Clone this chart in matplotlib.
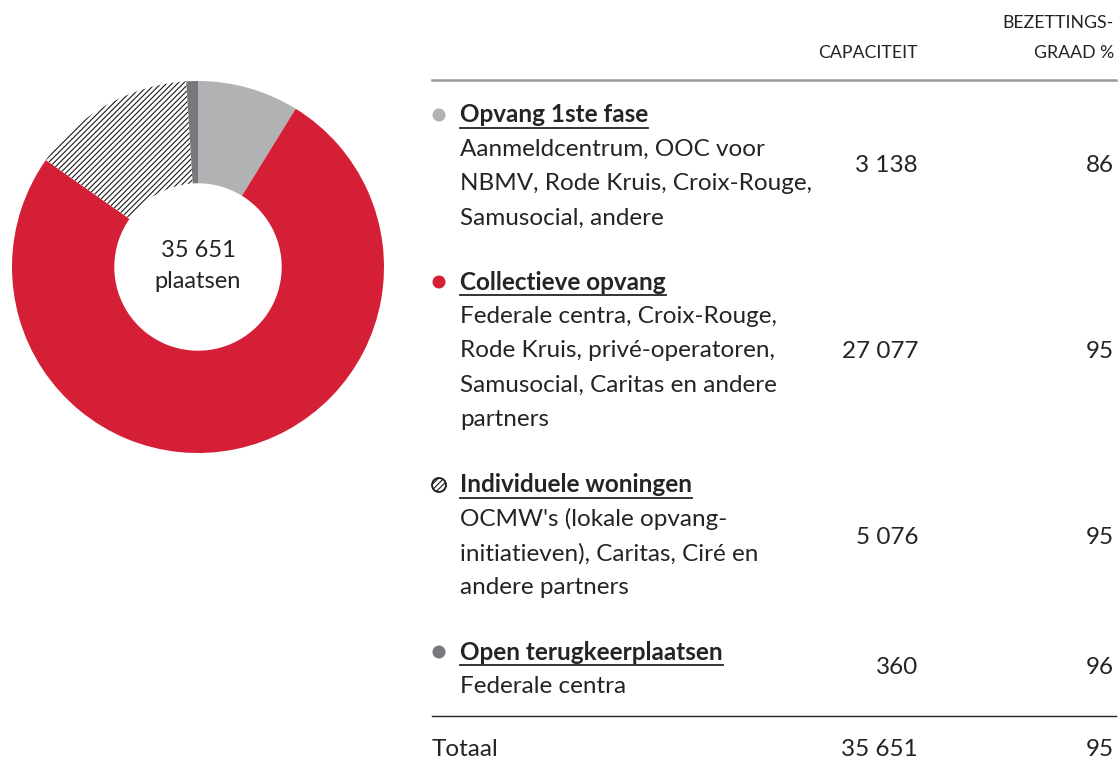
import matplotlib
matplotlib.use("Agg")
import matplotlib.pyplot as plt
from matplotlib.patches import Circle

# data
categorieen = ["Opvang 1ste fase", "Collectieve opvang",
               "Individuele woningen", "Open terugkeerplaatsen"]
omschrijving = [
    ["Aanmeldcentrum, OOC voor", "NBMV, Rode Kruis, Croix-Rouge,", "Samusocial, andere"],
    ["Federale centra, Croix-Rouge,", "Rode Kruis, privé-operatoren,",
     "Samusocial, Caritas en andere", "partners"],
    ["OCMW's (lokale opvang-", "initiatieven), Caritas, Ciré en", "andere partners"],
    ["Federale centra"],
]
capaciteit = [3138, 27077, 5076, 360]
bezetting = [86, 95, 95, 96]
totaal_capaciteit = 35651
totaal_bezetting = 95

kleuren = ["#B1B2B4", "#D51F36", "white", "#77787B"]
arcering = [None, None, "//////", None]
tekstkleur = "#262324"


def fmt(n):
    return f"{n:,}".replace(",", " ")


plt.rcParams["font.family"] = ["Lato", "DejaVu Sans"]
plt.rcParams["hatch.linewidth"] = 0.8

fig = plt.figure(figsize=(11.2, 7.59), dpi=100)

# donut
cx, cy, r = 198, 267, 186
ax = fig.add_axes([(cx - r) / 1120, (759 - cy - r) / 759, 2 * r / 1120, 2 * r / 759])
wedges, _ = ax.pie(capaciteit, colors=kleuren, startangle=90, counterclock=False,
                   wedgeprops=dict(width=0.55, linewidth=0))
for w, h in zip(wedges, arcering):
    if h:
        w.set_hatch(h)
        w.set_edgecolor("#1a1a1a")
        w.set_linewidth(0)
ax.set_xlim(-1, 1)
ax.set_ylim(-1, 1)
ax.text(0, 0.09, fmt(totaal_capaciteit), ha="center", va="center", fontsize=17, color=tekstkleur)
ax.text(0, -0.08, "plaatsen", ha="center", va="center", fontsize=17, color=tekstkleur)

# table overlay in pixel coordinates
at = fig.add_axes([0, 0, 1, 1], zorder=-1)
at.set_xlim(0, 1120)
at.set_ylim(759, 0)
at.axis("off")

fs = 17.5
x_cap, x_bez = 918, 1114
at.text(x_bez, 23, "BEZETTINGS-", ha="right", va="center", fontsize=12.8, color=tekstkleur)
at.text(x_bez, 53, "GRAAD %", ha="right", va="center", fontsize=12.8, color=tekstkleur)
at.text(x_cap, 53, "CAPACITEIT", ha="right", va="center", fontsize=12.8, color=tekstkleur)
at.plot([432, 1116], [80, 80], color="#9a9a9a", lw=1.8)

titel_y = [115, 282, 485, 652]
waarde_y = [166, 352, 537, 668]
regel = 34.3

fig.canvas.draw()
renderer = fig.canvas.get_renderer()
inv = at.transData.inverted()

for i, cat in enumerate(categorieen):
    ty = titel_y[i]
    if arcering[i]:
        at.add_patch(Circle((439, ty), 7, facecolor="white", edgecolor="#1a1a1a",
                            lw=1.3, hatch="//////"))
    else:
        at.add_patch(Circle((439, ty), 6.5, color=kleuren[i], lw=0))
    t = at.text(460, ty, cat, ha="left", va="center", fontsize=fs,
                fontweight="bold", color=tekstkleur)
    bb = t.get_window_extent(renderer)
    (x0, _), (x1, _) = inv.transform([[bb.x0, bb.y0], [bb.x1, bb.y1]])
    at.plot([x0, x1], [ty + 13, ty + 13], color=tekstkleur, lw=1.3)
    for j, lijn in enumerate(omschrijving[i]):
        at.text(460, ty + regel * (j + 1), lijn, ha="left", va="center",
                fontsize=fs, color=tekstkleur)
    at.text(x_cap, waarde_y[i], fmt(capaciteit[i]), ha="right", va="center",
            fontsize=fs, color=tekstkleur)
    at.text(x_bez, waarde_y[i], str(bezetting[i]), ha="right", va="center",
            fontsize=fs, color=tekstkleur)

at.plot([432, 1116], [716, 716], color=tekstkleur, lw=1)
at.text(432, 749, "Totaal", ha="left", va="center", fontsize=fs, color=tekstkleur)
at.text(x_cap, 749, fmt(totaal_capaciteit), ha="right", va="center", fontsize=fs, color=tekstkleur)
at.text(x_bez, 749, str(totaal_bezetting), ha="right", va="center", fontsize=fs, color=tekstkleur)

fig.savefig("out.png", dpi=100)
